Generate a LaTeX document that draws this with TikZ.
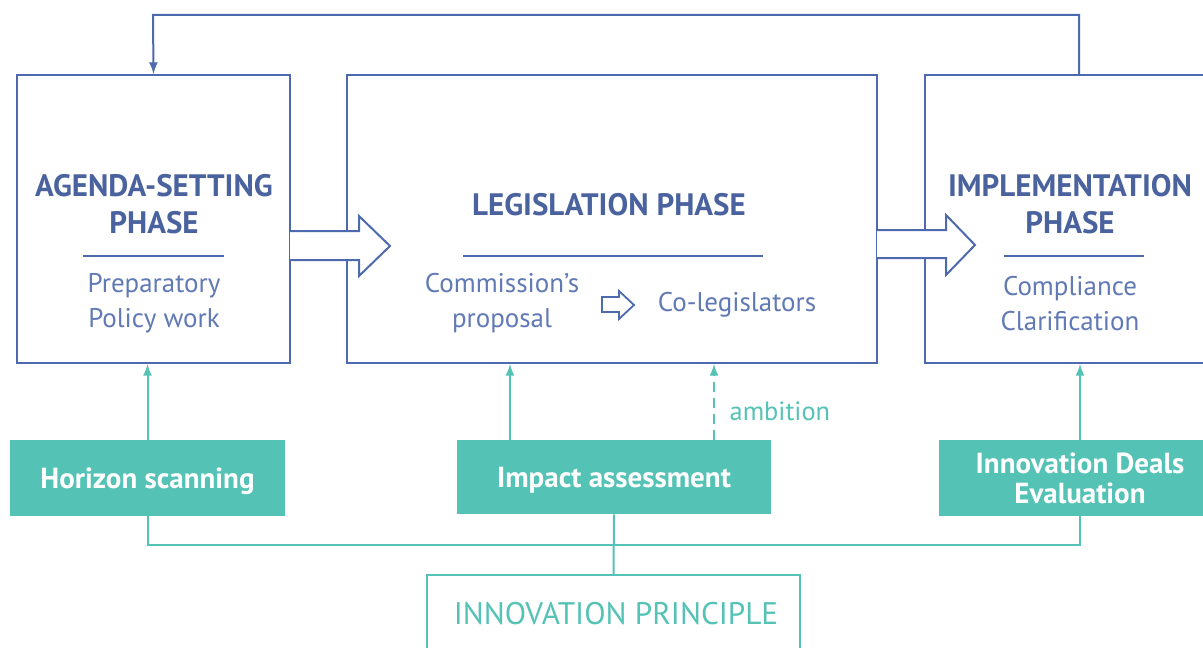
\documentclass[tikz,border=0pt]{standalone}
\usepackage{fontspec}
\setmainfont{PT Sans}
\usetikzlibrary{positioning}
\definecolor{eublue}{HTML}{4E6AAE}
\definecolor{eutext}{HTML}{4A639E}
\definecolor{eusub}{HTML}{6179B4}
\definecolor{euteal}{HTML}{55C2B6}
\tikzset{
    phasebox/.style={draw=eublue, line width=1pt, fill=white, inner sep=0pt},
    toolbox/.style={fill=euteal, inner sep=0pt, text=white, font=\bfseries\fontsize{14.5}{15}\selectfont, align=center},
    phasetitle/.style={text=eutext, font=\bfseries\fontsize{15.5}{18.5}\selectfont, align=center},
    phasesub/.style={text=eusub, font=\fontsize{13.5}{17.5}\selectfont, align=center},
    blockarrow/.style={draw=eublue, line width=1pt, fill=white, line join=miter},
    tealline/.style={draw=euteal, line width=1pt},
}
\begin{document}
\begin{tikzpicture}[x=0.5pt, y=-0.5pt, >=latex]
    \clip (0,0) rectangle (1203,647);
    \fill[white] (0,0) rectangle (1203,647);
    % phases
    \node [phasebox, minimum width=136.5pt, minimum height=144pt] (agenda) at (153.5,219) {};
    \node [phasebox, minimum width=265pt, minimum height=144pt] (legis) at (612,219) {};
    \node [phasebox, minimum width=154pt, minimum height=144pt] (impl) at (1079,219) {};
    % tools
    \node [toolbox, text depth=0pt, minimum width=137.5pt, minimum height=38pt] (horizon) at (147.5,478) {Horizon scanning};
    \node [toolbox, text depth=0pt, minimum width=157pt, minimum height=37pt] (impact) at (614,477) {Impact assessment};
    \node [toolbox, minimum width=141pt, minimum height=38pt] (deals) at (1080,478) {Innovation Deals\\Evaluation};
    \node [draw=euteal, line width=1pt, inner sep=0pt, minimum width=186.5pt, minimum height=55pt] (principle) at (613.5,630) {};
    \node [text=euteal, font=\fontsize{15.6}{18}\selectfont] (principleT) at (616,614) {INNOVATION PRINCIPLE};
    % titles
    \node [phasetitle] (agendaT) at (154,204) {AGENDA-SETTING\\PHASE};
    \node [phasetitle] (legisT) at (609,205) {LEGISLATION PHASE};
    \node [phasetitle] (implT) at (1070,204) {IMPLEMENTATION\\PHASE};
    \draw [eublue, line width=1pt] (83,256) -- (224,256);
    \draw [eublue, line width=1pt] (463,256) -- (763,256);
    \draw [eublue, line width=1pt] (1004,256) -- (1144,256);
    \node [phasesub] (agendaS) at (154,303) {Preparatory\\Policy work};
    \node [phasesub] (proposal) at (502,303) {Commission’s\\proposal};
    \node [phasesub] (colegis) at (737,305) {Co-legislators};
    \node [phasesub] (implS) at (1070,304) {Compliance\\Clarification};
    % block arrows
    \draw [blockarrow] (290,231) -- (359,231) -- (359,216) -- (390,246) -- (359,276) -- (359,260) -- (290,260);
    \draw [blockarrow] (877,230) -- (946,230) -- (946,215) -- (975,245) -- (946,275) -- (946,258) -- (877,258);
    \draw [blockarrow, line width=0.9pt] (602,297) -- (619,297) -- (619,291) -- (634,305) -- (619,319) -- (619,312) -- (602,312) -- cycle;
    % feedback
    \draw [->, eublue, line width=1pt] (impl.north) |- (153,15) -- (agenda.north);
    % tools to phases
    \draw [->, tealline] (horizon.north) -- (horizon.north |- agenda.south);
    \draw [->, tealline] ([xshift=-52pt]impact.north) -- ([xshift=-52pt]impact.north |- legis.south);
    \draw [->, tealline, dash pattern=on 5pt off 3pt] ([xshift=50pt]impact.north) -- ([xshift=50pt]impact.north |- legis.south)
        node [pos=0.38, right=4pt, text=euteal, font=\fontsize{13.2}{14}\selectfont] (ambition) {ambition};
    \draw [->, tealline] (deals.north) -- (deals.north |- impl.south);
    % principle
    \coordinate (bus) at (614,545);
    \draw [tealline] (horizon.south) |- (bus) -| (deals.south);
    \draw [tealline] (impact.south) -- (principle.north);
\end{tikzpicture}
\end{document}
